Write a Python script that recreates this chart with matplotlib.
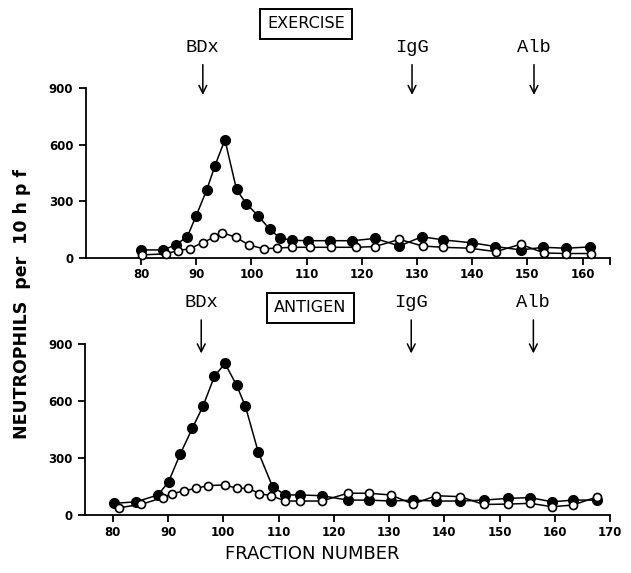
import matplotlib
matplotlib.use('Agg')
import matplotlib.pyplot as plt

# exercise panel
ex_filled_x = [80, 84, 86.3, 88.4, 90, 91.9, 93.4, 95.2, 97.3, 99.1, 101.2, 103.3, 105.1, 107.3,
               110.3, 114.3, 118.3, 122.4, 126.8, 130.9, 134.8, 139.9, 144.2, 148.8, 152.9, 157, 161.4]
ex_filled_y = [42, 42, 69, 113, 224, 360, 489, 627, 363, 286, 224, 152, 107, 93,
               91, 91, 91, 103, 63, 112, 95, 80, 60, 42, 56, 51, 58]
ex_open_x = [80.2, 84.5, 86.7, 88.8, 91.2, 93.2, 94.7, 97.2, 99.5, 102.2, 104.6, 107.4, 110.6,
             114.4, 118.9, 122.4, 126.8, 131, 134.7, 139.6, 144.3, 148.8, 153, 157, 161.5]
ex_open_y = [16, 21, 39, 48, 81, 109, 134, 109, 69, 48, 52, 56, 56,
             56, 56, 60, 98, 63, 56, 51, 33, 72, 26, 23, 23]

# antigen panel
ag_filled_x = [80.3, 84.2, 88.2, 90.1, 92.2, 94.4, 96.3, 98.4, 100.3, 102.4, 104.0, 106.3, 108.9,
               111.2, 113.8, 117.8, 122.5, 126.3, 130.3, 134.3, 138.5, 142.9, 147.1, 151.5,
               155.5, 159.5, 163.3, 167.7]
ag_filled_y = [62, 70, 106, 176, 321, 457, 571, 730, 797, 682, 571, 333, 150,
               106, 106, 102, 79, 79, 74, 79, 74, 74, 79, 88,
               92, 70, 79, 79]
ag_open_x = [81.1, 85.1, 89.0, 90.8, 92.9, 95.0, 97.3, 100.3, 102.4, 104.5, 106.5, 108.7,
             111.2, 113.8, 117.8, 122.5, 126.3, 130.3, 134.3, 138.5, 142.9, 147.1, 151.5,
             155.5, 159.5, 163.3, 167.7]
ag_open_y = [39, 56, 92, 113, 127, 141, 155, 159, 141, 141, 113, 102,
             74, 74, 74, 115, 115, 106, 58, 102, 97, 56, 58,
             62, 44, 53, 97]

y_ticks = [0, 300, 600, 900]
ex_xticks = [80, 90, 100, 110, 120, 130, 140, 150, 160]
ag_xticks = [80, 90, 100, 110, 120, 130, 140, 150, 160, 170]
markers_ex = {'BDx': 91.2, 'IgG': 129.1, 'Alb': 151.2}
markers_ag = {'BDx': 96.0, 'IgG': 134.0, 'Alb': 156.1}

fig = plt.figure(figsize=(6.31, 5.73), dpi=100)
ax1 = fig.add_axes([0.136, 0.550, 0.831, 0.296])
ax2 = fig.add_axes([0.135, 0.101, 0.832, 0.299])


def style_axis(ax, xlim, ticks, labels):
    ax.set_xlim(*xlim)
    ax.set_ylim(0, 900)
    ax.set_xticks(ticks)
    ax.set_xticklabels(labels, fontsize=8.5, fontweight='bold')
    ax.set_yticks(y_ticks)
    ax.set_yticklabels([str(t) for t in y_ticks], fontsize=8.5, fontweight='bold')
    ax.spines['top'].set_visible(False)
    ax.spines['right'].set_visible(False)
    ax.spines['left'].set_linewidth(1.3)
    ax.spines['bottom'].set_linewidth(1.3)
    ax.tick_params(direction='out', length=5, width=1.3, pad=2.5)
    ax.tick_params(axis='y', pad=4)


def draw(ax, fx, fy, ox, oy):
    ax.plot(fx, fy, color='black', lw=1.1, marker='o', ms=7, mfc='black', mec='black', clip_on=False, zorder=3)
    ax.plot(ox, oy, color='black', lw=1.1, marker='o', ms=5.8, mfc='white', mec='black', mew=1.2, clip_on=False, zorder=4)


def label_markers(ax, marks, y_text, y_top, y_tip):
    for name, x in marks.items():
        ax.annotate('', xy=(x, y_tip), xytext=(x, y_top), annotation_clip=False,
                    arrowprops=dict(arrowstyle='->', color='black', lw=1.1, mutation_scale=14))
        ax.text(x, y_text, name, ha='center', va='center', fontsize=13.5,
                family=['Liberation Mono', 'DejaVu Sans Mono'], clip_on=False)


draw(ax1, ex_filled_x, ex_filled_y, ex_open_x, ex_open_y)
style_axis(ax1, (70, 165), ex_xticks + [165], [str(t) for t in ex_xticks] + [''])
label_markers(ax1, markers_ex, 1115, 1040, 850)

draw(ax2, ag_filled_x, ag_filled_y, ag_open_x, ag_open_y)
style_axis(ax2, (75, 170), ag_xticks, [str(t) for t in ag_xticks])
label_markers(ax2, markers_ag, 1115, 1040, 835)

box = dict(boxstyle='square,pad=0.45', fc='white', ec='black', lw=1.4)
fig.text(0.485, 1 - 24 / 573, 'EXERCISE', ha='center', va='center', fontsize=11.5, bbox=box)
fig.text(0.492, 1 - 308 / 573, 'ANTIGEN', ha='center', va='center', fontsize=11.5, bbox=box)

fig.text(0.035, 0.47, 'NEUTROPHILS  per  10 h p f', rotation=90, ha='center', va='center',
         fontsize=12.5, fontweight='bold')
fig.text(0.495, 1 - 554 / 573, 'FRACTION NUMBER', ha='center', va='center', fontsize=13)

fig.savefig('out.png', dpi=100)
